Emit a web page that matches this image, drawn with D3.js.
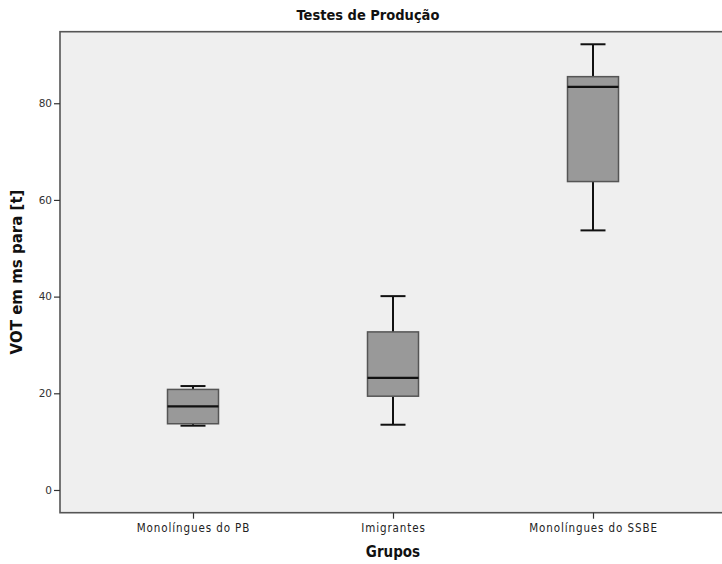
<!DOCTYPE html>
<html>
<head>
<meta charset="utf-8">
<script src="https://cdn.jsdelivr.net/npm/d3@7"></script>
<style>
  html, body { margin: 0; padding: 0; background: #fff; }
  svg { display: block; }
</style>
</head>
<body>
<svg id="chart" width="722" height="564"></svg>
<script>
// Box plot summaries for VOT of [t] per group
const groups = ["Monolíngues do PB", "Imigrantes", "Monolíngues do SSBE"];
const whiskerLow = [13.3, 13.5, 53.7];
const q1 = [13.7, 19.4, 63.8];
const medians = [17.3, 23.2, 83.4];
const q3 = [20.8, 32.7, 85.5];
const whiskerHigh = [21.5, 40.1, 92.2];
const yTicks = [0, 20, 40, 60, 80];

const plot = { left: 60, right: 726, top: 31.7, bottom: 512.7 };

const svg = d3.select("#chart");

const x = d3.scalePoint()
  .domain(groups)
  .range([plot.left, plot.right])
  .padding(0.665);

const y = d3.scaleLinear()
  .domain([-4.7, 94.8])
  .range([plot.bottom, plot.top]);

// plot background
svg.append("rect")
  .attr("x", plot.left).attr("y", plot.top)
  .attr("width", plot.right - plot.left).attr("height", plot.bottom - plot.top)
  .attr("fill", "#efefef");

const rows = groups.map((g, i) => ({
  g, lo: whiskerLow[i], q1: q1[i], med: medians[i], q3: q3[i], hi: whiskerHigh[i]
}));

const boxW = 51, capW = 25;
const box = svg.append("g").selectAll("g").data(rows).join("g");

// whiskers
box.append("line")
  .attr("x1", d => x(d.g)).attr("x2", d => x(d.g))
  .attr("y1", d => y(d.q3)).attr("y2", d => y(d.hi))
  .attr("stroke", "#111").attr("stroke-width", 2);
box.append("line")
  .attr("x1", d => x(d.g)).attr("x2", d => x(d.g))
  .attr("y1", d => y(d.q1)).attr("y2", d => y(d.lo))
  .attr("stroke", "#111").attr("stroke-width", 2);
box.append("line")
  .attr("x1", d => x(d.g) - capW / 2).attr("x2", d => x(d.g) + capW / 2)
  .attr("y1", d => y(d.hi)).attr("y2", d => y(d.hi))
  .attr("stroke", "#111").attr("stroke-width", 2);
box.append("line")
  .attr("x1", d => x(d.g) - capW / 2).attr("x2", d => x(d.g) + capW / 2)
  .attr("y1", d => y(d.lo)).attr("y2", d => y(d.lo))
  .attr("stroke", "#111").attr("stroke-width", 2);

// boxes
box.append("rect")
  .attr("x", d => x(d.g) - boxW / 2)
  .attr("y", d => y(d.q3))
  .attr("width", boxW)
  .attr("height", d => y(d.q1) - y(d.q3))
  .attr("fill", "#999999")
  .attr("stroke", "#555")
  .attr("stroke-width", 1.5);

// medians
box.append("line")
  .attr("x1", d => x(d.g) - boxW / 2).attr("x2", d => x(d.g) + boxW / 2)
  .attr("y1", d => y(d.med)).attr("y2", d => y(d.med))
  .attr("stroke", "#111").attr("stroke-width", 2.2);

// frame
svg.append("rect")
  .attr("x", plot.left).attr("y", plot.top)
  .attr("width", plot.right - plot.left).attr("height", plot.bottom - plot.top)
  .attr("fill", "none")
  .attr("stroke", "#555").attr("stroke-width", 1.6);

// y axis
const yAxis = svg.append("g")
  .attr("transform", `translate(${plot.left},0)`)
  .call(d3.axisLeft(y).tickValues(yTicks).tickSize(6).tickPadding(2).tickFormat(d3.format("d")));
yAxis.select(".domain").remove();
yAxis.selectAll(".tick line").attr("stroke", "#333").attr("stroke-width", 1.2);
yAxis.selectAll(".tick text")
  .attr("fill", "#333")
  .style("font-family", "'DejaVu Sans', sans-serif")
  .style("font-size", "10.5px");

// x axis
const xAxis = svg.append("g")
  .attr("transform", `translate(0,${plot.bottom})`)
  .call(d3.axisBottom(x).tickSize(6).tickPadding(5));
xAxis.select(".domain").remove();
xAxis.selectAll(".tick line").attr("stroke", "#333").attr("stroke-width", 1.2);
xAxis.selectAll(".tick text")
  .attr("fill", "#222")
  .style("font-family", "'DejaVu Sans Condensed', 'DejaVu Sans', sans-serif")
  .style("font-size", "11.5px")
  .style("letter-spacing", "0.9px");

// titles
svg.append("text")
  .attr("x", 368).attr("y", 20)
  .attr("text-anchor", "middle")
  .style("font-family", "'DejaVu Sans Condensed', 'DejaVu Sans', sans-serif")
  .style("font-weight", "bold")
  .style("font-size", "14.5px")
  .attr("fill", "#111")
  .text("Testes de Produção");

svg.append("text")
  .attr("x", x(groups[1])).attr("y", 557)
  .attr("text-anchor", "middle")
  .style("font-family", "'DejaVu Sans Condensed', 'DejaVu Sans', sans-serif")
  .style("font-weight", "bold")
  .style("font-size", "15px")
  .attr("fill", "#111")
  .text("Grupos");

svg.append("text")
  .attr("transform", `translate(22,${272}) rotate(-90)`)
  .attr("text-anchor", "middle")
  .style("font-family", "'DejaVu Sans', sans-serif")
  .style("font-weight", "bold")
  .style("font-size", "15px")
  .attr("fill", "#111")
  .text("VOT em ms para [t]");
</script>
</body>
</html>
